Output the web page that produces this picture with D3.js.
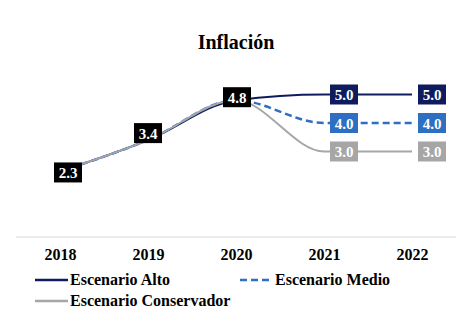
<!DOCTYPE html>
<html><head><meta charset="utf-8">
<script src="https://cdn.jsdelivr.net/npm/d3@7"></script>
<style>body{margin:0;background:#fff}</style>
</head><body>
<svg id="c" width="474" height="327"></svg>
<script>
const years = ["2018","2019","2020","2021","2022"];
const alto = [2.3, 3.4, 4.8, 5.0, 5.0];
const medio = [2.3, 3.4, 4.8, 4.0, 4.0];
const conservador = [2.3, 3.4, 4.8, 3.0, 3.0];
const seriesNames = ["Escenario Alto", "Escenario Medio", "Escenario Conservador"];
const title = "Inflación";

const svg = d3.select("#c");
const font = "'Liberation Serif','Times New Roman',serif";
const x = d3.scalePoint().domain(years).range([60, 412]);
const y = d3.scaleLinear().domain([0, 6]).range([237, 66]);

svg.append("text").attr("x", 236).attr("y", 49).attr("text-anchor", "middle")
  .attr("font-family", font).attr("font-weight", "bold").attr("font-size", 20).text(title);

// axis
const ax = svg.append("g").attr("transform", "translate(0,237)")
  .call(d3.axisBottom(x).tickSize(0).tickPadding(12));
ax.select(".domain").attr("stroke", "#d9d9d9").attr("d", "M-44,0H396").attr("transform","translate(0,0)");
ax.select(".domain").attr("d", `M16,0H456`);
ax.selectAll("text").attr("font-family", font).attr("font-weight", "bold").attr("font-size", 16).attr("fill", "#000");

const series = [
  {name: seriesNames[0], vals: alto, color: "#0e1c5e", dash: null},
  {name: seriesNames[1], vals: medio, color: "#2e6fc2", dash: "7,4"},
  {name: seriesNames[2], vals: conservador, color: "#a6a6a6", dash: null}
];
const line = d3.line().x((d, i) => x(years[i])).y(d => y(d)).curve(d3.curveMonotoneX);
series.forEach(s => {
  svg.append("path").datum(s.vals).attr("d", line).attr("fill", "none")
    .attr("stroke", s.color).attr("stroke-width", s.dash ? 2.5 : 2)
    .attr("stroke-dasharray", s.dash);
});

function box(cx, cy, txt, fill) {
  const g = svg.append("g");
  g.append("rect").attr("x", cx - 14).attr("y", cy - 10).attr("width", 28).attr("height", 20).attr("fill", fill);
  g.append("text").attr("x", cx).attr("y", cy + 5.5).attr("text-anchor", "middle")
    .attr("font-family", font).attr("font-weight", "bold").attr("font-size", 15).attr("fill", "#fff").text(txt);
}
// shared labels 2018-2020
const sharedDx = [8, 0, 1];
const sharedDy = [1, -7, -3];
[0,1,2].forEach(i => box(x(years[i]) + sharedDx[i], y(alto[i]) + sharedDy[i], d3.format(".1f")(alto[i]), "#000"));
// scenario labels 2021-2022
series.forEach(s => {
  [3,4].forEach(i => box(x(years[i]) + 20, y(s.vals[i]), d3.format(".1f")(s.vals[i]), s.color));
});

// legend
const leg = [
  {s: series[0], lx: 35, ly: 280},
  {s: series[1], lx: 240, ly: 280},
  {s: series[2], lx: 35, ly: 301}
];
leg.forEach(l => {
  svg.append("line").attr("x1", l.lx).attr("x2", l.lx + 33).attr("y1", l.ly).attr("y2", l.ly)
    .attr("stroke", l.s.color).attr("stroke-width", 2.5).attr("stroke-dasharray", l.s.dash ? "7,4" : null);
  svg.append("text").attr("x", l.lx + 35).attr("y", l.ly + 5).attr("font-family", font)
    .attr("font-weight", "bold").attr("font-size", 16).attr("fill", "#000").text(l.s.name);
});
</script>
</body></html>
